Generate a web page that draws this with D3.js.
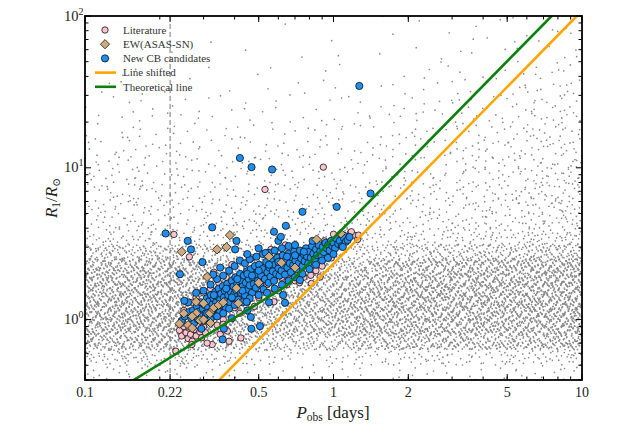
<!DOCTYPE html>
<html>
<head>
<meta charset="utf-8">
<script src="https://cdn.jsdelivr.net/npm/d3@7"></script>
<style>
  html, body { margin: 0; padding: 0; background: #fff; }
</style>
</head>
<body>
<svg id="chart" width="632" height="426" font-family="Liberation Serif, DejaVu Serif, serif"></svg>
<script>
// ══════════════════════════════════════════════
// DATA  (P in days, R in solar radii)
// ══════════════════════════════════════════════

// background sample: point counts per cell.
// cells are 0.1 dex wide in log P (from 0.1 d) and 0.1 dex tall in log R (from R = 100 downward)
const bgLogP0 = -1;
const bgLogRTop = 2;
const bgCounts = [
  [0,0,0,0,0,0,0,0,1,0,0,1,0,1,0,1,1,1,1,2],
  [0,1,0,0,0,1,0,0,0,1,0,0,1,0,1,1,1,2,1,2],
  [1,0,0,1,0,0,1,0,1,0,1,1,0,1,1,2,1,2,2,3],
  [0,1,1,0,1,0,1,1,0,1,1,0,1,1,2,1,2,2,3,4],
  [1,1,1,1,1,1,0,1,1,1,1,1,1,2,2,2,3,3,4,5],
  [1,2,2,1,2,1,1,1,2,1,2,2,2,2,3,3,3,4,5,6],
  [2,2,3,2,2,2,2,2,2,2,2,2,3,3,3,4,4,5,6,7],
  [3,3,3,3,3,2,3,2,3,3,3,3,3,4,4,4,5,6,7,8],
  [4,4,4,3,3,3,3,3,3,3,3,4,4,4,5,5,6,7,8,9],
  [5,5,5,4,4,4,4,4,4,4,4,4,5,5,5,6,7,8,9,11],
  [5,6,6,5,5,5,5,5,5,5,5,5,6,6,6,7,8,9,10,12],
  [6,7,7,6,6,6,6,6,6,6,6,6,7,7,7,8,9,10,11,13],
  [7,8,8,7,7,7,7,7,7,7,7,7,8,8,8,9,10,11,12,14],
  [8,9,9,8,8,8,8,8,8,8,8,8,9,9,9,10,11,12,13,15],
  [12,12,13,12,11,11,11,11,11,11,11,12,12,13,13,14,15,16,17,20],
  [34,34,36,34,32,29,26,21,18,18,20,24,29,32,34,36,37,38,40,45],
  [70,70,72,70,66,62,54,42,34,34,42,50,62,66,70,72,74,75,78,82],
  [78,80,82,80,78,74,66,56,48,52,60,70,75,78,80,82,83,84,86,90],
  [80,82,85,82,80,78,74,66,60,66,74,78,80,82,83,83,84,85,86,90],
  [80,82,84,82,80,78,74,70,66,70,74,78,80,80,81,81,81,82,84,88],
  [75,78,80,80,78,74,66,62,62,64,70,74,75,75,75,75,75,76,78,82],
  [56,58,62,62,56,54,45,35,30,32,40,50,54,54,54,52,52,54,56,62],
  [18,19,19,18,17,14,10,7,6,6,7,10,12,12,12,12,12,13,14,17],
  [6,6,6,6,5,4,3,2,2,2,2,3,3,3,3,3,3,3,4,5]
];

// Literature systems [P, R1]
const literature = [
  [0.232,0.62],[0.24,0.85],[0.245,0.78],[0.25,0.9],[0.248,0.95],[0.255,0.82],[0.26,0.75],[0.262,0.88],
  [0.266,0.8],[0.27,0.72],[0.275,0.86],[0.28,0.78],[0.285,0.92],[0.29,0.83],[0.295,0.76],[0.3,0.9],
  [0.305,0.82],[0.269,0.685],[0.325,0.685],[0.38,0.72],[0.374,0.84],[0.424,0.757],[0.31,0.7],[0.35,0.8],
  [0.34,0.92],[0.32,0.95],[0.36,1.0],[0.33,1.05],[0.228,3.64],[0.263,2.59],[0.53,7.2],[0.91,10.1],
  [0.576,1.31],[0.28,1.4],[0.3,1.5],[0.32,1.6],[0.345,1.75],[0.37,1.9],[0.29,1.25],[0.31,1.35],
  [0.33,1.1],[0.355,1.55],[0.38,1.4],[0.4,1.75],[0.42,1.45],[0.44,1.9],[0.46,1.55],[0.48,2.0],
  [0.5,1.6],[0.52,2.2],[0.54,1.7],[0.56,2.35],[0.58,1.9],[0.6,2.6],[0.62,1.9],[0.64,2.4],
  [0.66,2.0],[0.68,2.7],[0.7,2.0],[0.72,2.55],[0.74,2.1],[0.78,2.75],[0.81,1.96],[0.815,1.73],
  [0.883,1.91],[0.9,3.0],[0.95,2.7],[1.0,3.65],[1.17,3.73],[1.21,3.6],[1.25,3.37],[1.18,3.79],
  [1.26,3.6],[1.05,3.5],[1.1,3.6],[0.86,3.1],[0.92,3.3],[0.45,1.3],[0.5,1.4],[0.55,1.5],
  [0.65,1.7],[0.7,1.8],[0.76,1.9],[0.85,2.1],[0.4,1.2],[0.35,1.1],
  [0.33,2.05],[0.39,2.3],[0.47,2.55],[0.56,2.9],[0.64,3.1],[0.27,1.3],[0.25,1.15],[0.31,0.98],
  [0.36,0.93],[0.42,1.1],[0.48,1.22],[0.6,1.55],[0.73,1.75],[0.9,2.25],[0.98,2.55]
];

// EW (ASAS-SN) systems [P, R1]
const ewAsassn = [
  [0.383,3.6],[0.245,2.8],[0.34,2.9],[0.371,3.0],[0.31,1.91],[0.617,2.37],[0.855,3.37],[1.07,3.69],
  [0.28,1.31],[0.29,0.99],[0.26,0.92],[0.318,1.1],[0.414,1.28],[0.407,1.61],[0.28,1.1],[0.328,1.17],
  [0.27,1.05],[0.3,1.0],[0.32,0.95],[0.33,1.2],[0.27,0.88],[0.345,1.25],[0.36,1.3],[0.25,1.1],
  [0.24,0.94],[0.3,1.28],[0.5,1.75],[0.55,2.6],[0.7,2.2]
];

// New CB candidates [P, R1]
const newCB = [
  [0.245,0.98],[0.252,1.05],[0.262,1.12],
  [0.268,1.02],[0.272,1.15],[0.275,0.95],[0.278,1.08],[0.282,1.22],[0.285,1.0],[0.288,1.13],
  [0.292,1.3],[0.295,1.06],[0.298,1.18],[0.30,0.98],[0.303,1.25],[0.306,1.1],[0.309,1.38],[0.31,1.02],
  [0.313,1.2],[0.316,1.32],[0.318,1.12],[0.321,1.45],[0.324,1.05],[0.326,1.26],[0.329,1.38],[0.33,1.17],
  [0.334,1.52],[0.337,1.3],[0.34,1.2],[0.342,1.42],[0.345,1.6],[0.348,1.12],[0.35,1.35],
  [0.353,1.48],[0.356,1.25],[0.359,1.66],[0.362,1.4],[0.365,1.55],[0.368,1.2],[0.37,1.33],
  [0.374,1.72],[0.377,1.45],[0.38,1.6],[0.383,1.3],[0.386,1.52],[0.39,1.8],[0.393,1.38],[0.396,1.65],[0.399,1.48],
  [0.403,1.9],[0.406,1.56],[0.41,1.72],[0.414,1.35],[0.418,1.62],[0.421,2.0],[0.425,1.5],[0.428,1.8],
  [0.432,1.66],[0.436,1.95],[0.44,1.45],[0.444,1.75],[0.448,2.08],[0.452,1.58],[0.456,1.85],[0.46,1.68],
  [0.465,2.15],[0.47,1.5],[0.474,1.9],[0.478,1.72],[0.483,2.25],[0.487,1.62],[0.492,2.0],[0.496,1.8],
  [0.502,2.3],[0.507,1.7],[0.512,1.95],[0.518,2.15],[0.523,1.58],[0.53,1.85],[0.536,2.4],[0.542,2.05],[0.548,1.75],
  [0.553,2.2],[0.558,1.92],[0.564,2.5],[0.57,2.08],[0.576,1.8],[0.582,2.3],[0.588,2.0],[0.594,2.55],
  [0.60,2.18],[0.606,1.95],[0.612,2.42],[0.618,2.1],[0.625,2.65],[0.632,2.28],[0.638,1.98],[0.645,2.5],
  [0.652,2.2],[0.66,2.72],[0.667,2.35],[0.674,2.05],[0.68,2.58],[0.688,2.28],[0.695,2.8],
  [0.703,2.45],[0.71,2.15],[0.718,2.65],[0.726,2.35],[0.733,2.85],[0.742,2.52],[0.75,2.25],
  [0.758,2.7],[0.766,2.42],[0.775,2.95],[0.783,2.6],[0.792,2.35],[0.80,2.8],
  [0.81,2.55],[0.82,3.05],[0.83,2.72],[0.84,2.5],[0.85,2.9],[0.86,2.66],[0.872,3.1],[0.885,2.82],[0.895,2.6],
  [0.905,3.0],[0.915,2.78],[0.928,3.2],[0.94,2.95],[0.952,3.1],[0.965,2.85],[0.978,3.3],[0.99,3.05],
  [1.0,3.2],[1.015,2.95],[1.03,3.4],[1.045,3.15],[1.06,3.3],[1.08,3.05],[1.1,3.45],[1.12,3.25],[1.14,3.34],[1.16,3.5],
  // upper edge of the band
  [0.3,1.55],[0.32,1.7],[0.34,1.85],[0.36,1.95],[0.38,2.1],[0.4,2.25],[0.42,2.45],[0.44,2.35],[0.46,2.5],
  [0.49,2.6],[0.52,2.7],[0.55,2.75],[0.58,2.85],[0.62,2.95],[0.66,3.05],[0.7,3.1],[0.6,3.3],[0.5,2.95],
  [0.45,2.7],[0.35,2.2],[0.28,1.5],[0.26,1.3],
  // lower edge of the band
  [0.32,1.0],[0.34,1.05],[0.36,1.1],[0.38,1.18],[0.4,1.25],[0.43,1.3],[0.46,1.38],
  [0.5,1.45],[0.54,1.5],[0.58,1.6],[0.62,1.7],[0.66,1.8],[0.7,1.9],[0.75,2.0],[0.8,2.15],[0.85,2.3],
  [0.9,2.45],[0.95,2.55],[1.0,2.7],[0.55,1.3],[0.45,1.15],[0.39,1.02],
  // band interior
  [0.33,1.45],[0.37,1.6],[0.41,1.85],[0.45,2.0],[0.5,2.1],[0.55,2.3],[0.6,2.4],[0.65,2.6],[0.7,2.65],
  [0.76,2.8],[0.47,1.95],[0.43,1.55],[0.39,1.4],[0.35,1.25],[0.31,1.1],
  // outliers
  [1.27,34.6],[0.42,11.6],[0.468,10.1],[0.566,9.75],[1.41,6.77],[1.03,5.53],[0.75,5.13],[0.211,3.69],
  [0.325,4.05],[0.259,3.30],[0.267,2.9],[0.407,3.3],[0.402,2.9],[0.643,4.15],[0.576,3.79],[0.614,3.51],
  [0.533,2.75],[0.297,2.39],[0.241,1.99],[0.251,1.33],[0.465,1.04],[0.506,0.905],[0.467,0.87],[0.358,0.74],
  [0.638,1.29],[0.627,1.45],[0.447,1.31],[0.362,0.87],[0.294,0.87],[0.328,1.98],[0.824,3.3],[1.09,3.01],
  [0.733,1.82]
];

// lines [P, R1]
const lineShifted = [[0.347, 0.4], [9.53, 100]];
const lineTheory  = [[0.157, 0.4], [0.648, 1.67], [7.55, 100]];
const pCut = 0.22;

// axes
const xTickLabels = [0.1, 0.22, 0.5, 1, 2, 5, 10];
const yTickLabels = [1, 10, 100];
const legendItems = [
  { label: 'Literature',        kind: 'lit' },
  { label: 'EW(ASAS-SN)',       kind: 'ew' },
  { label: 'New CB candidates', kind: 'new' },
  { label: 'Line shifted',      kind: 'shift' },
  { label: 'Theoretical line',  kind: 'theory' }
];

// ══════════════════════════════════════════════
// STYLE
// ══════════════════════════════════════════════
const FONT = 'Liberation Serif, DejaVu Serif, serif';
const COL = {
  bg: '#8a8a8a', lit: '#fbc3cd', ew: '#cfab7f', new: '#1e8ef0',
  shift: '#ffa500', theory: '#0a800a', edge: '#111'
};
const M = { l: 85, r: 582, t: 16, b: 380 };

const svg = d3.select('#chart');
const x = d3.scaleLog().domain([0.1, 10]).range([M.l, M.r]);
const y = d3.scaleLog().domain([0.4, 100]).range([M.b, M.t]);

svg.append('defs').append('clipPath').attr('id', 'plot-clip')
  .append('rect').attr('x', M.l).attr('y', M.t).attr('width', M.r - M.l).attr('height', M.b - M.t);
const plot = svg.append('g').attr('clip-path', 'url(#plot-clip)');

// background sample: each cell's count spread over the cell with a Halton fill;
// the index is hashed (high bits of a multiplicative hash) so cells don't show a repeated pattern
function halton(i, b) { let f = 1, r = 0; while (i > 0) { f /= b; r += f * (i % b); i = Math.floor(i / b); } return r; }
const bgPts = [];
let k = 1;
bgCounts.forEach((row, ri) => row.forEach((n, ci) => {
  for (let j = 0; j < n; j++, k++) {
    const idx = ((Math.imul(k, 2654435761) >>> 0) >>> 11) + 1;
    bgPts.push([
      Math.pow(10, bgLogP0 + (ci + halton(idx, 2)) * 0.1),
      Math.pow(10, bgLogRTop - (ri + 1) * 0.1 + halton(idx, 3) * 0.1)
    ]);
  }
}));
plot.append('g').selectAll('circle').data(bgPts).enter().append('circle')
  .attr('cx', d => x(d[0])).attr('cy', d => y(d[1])).attr('r', 0.85)
  .attr('fill', COL.bg);

// P = 0.22 d cut
plot.append('line')
  .attr('x1', x(pCut)).attr('x2', x(pCut)).attr('y1', M.t).attr('y2', M.b)
  .attr('stroke', '#777').attr('stroke-width', 1).attr('stroke-dasharray', '5,3');

// markers
const diamond = 'M0,-4.6L4.6,0L0,4.6L-4.6,0Z';
plot.append('g').selectAll('circle').data(literature).enter().append('circle')
  .attr('cx', d => x(d[0])).attr('cy', d => y(d[1])).attr('r', 3.2)
  .attr('fill', COL.lit).attr('stroke', COL.edge).attr('stroke-width', 0.8);
plot.append('g').selectAll('circle').data(newCB).enter().append('circle')
  .attr('cx', d => x(d[0])).attr('cy', d => y(d[1])).attr('r', 3.6)
  .attr('fill', COL.new).attr('stroke', COL.edge).attr('stroke-width', 0.8);
plot.append('g').selectAll('path').data(ewAsassn).enter().append('path')
  .attr('d', diamond).attr('transform', d => `translate(${x(d[0])},${y(d[1])})`)
  .attr('fill', COL.ew).attr('stroke', COL.edge).attr('stroke-width', 0.8);

// lines
const lineGen = d3.line().x(d => x(d[0])).y(d => y(d[1]));
plot.append('path').attr('d', lineGen(lineShifted))
  .attr('fill', 'none').attr('stroke', COL.shift).attr('stroke-width', 2.6);
plot.append('path').attr('d', lineGen(lineTheory))
  .attr('fill', 'none').attr('stroke', COL.theory).attr('stroke-width', 2.6);

// ══════════════════════════════════════════════
// AXES (ticks inward on all four sides)
// ══════════════════════════════════════════════
const ax = svg.append('g').attr('stroke', '#000').attr('stroke-width', 1);
const xMinor = [];
[0.1, 1].forEach(dec => { for (let m = 2; m <= 9; m++) xMinor.push(dec * m); });
const yMinor = [];
[0.1, 1, 10].forEach(dec => { for (let m = 2; m <= 9; m++) { const v = dec * m; if (v >= 0.4) yMinor.push(v); } });

xMinor.forEach(v => {
  ax.append('line').attr('x1', x(v)).attr('x2', x(v)).attr('y1', M.b).attr('y2', M.b - 3.5);
  ax.append('line').attr('x1', x(v)).attr('x2', x(v)).attr('y1', M.t).attr('y2', M.t + 3.5);
});
xTickLabels.forEach(v => {
  ax.append('line').attr('x1', x(v)).attr('x2', x(v)).attr('y1', M.b).attr('y2', M.b - 6);
  ax.append('line').attr('x1', x(v)).attr('x2', x(v)).attr('y1', M.t).attr('y2', M.t + 6);
});
yMinor.forEach(v => {
  ax.append('line').attr('x1', M.l).attr('x2', M.l + 3.5).attr('y1', y(v)).attr('y2', y(v));
  ax.append('line').attr('x1', M.r).attr('x2', M.r - 3.5).attr('y1', y(v)).attr('y2', y(v));
});
yTickLabels.forEach(v => {
  ax.append('line').attr('x1', M.l).attr('x2', M.l + 6).attr('y1', y(v)).attr('y2', y(v));
  ax.append('line').attr('x1', M.r).attr('x2', M.r - 6).attr('y1', y(v)).attr('y2', y(v));
});

svg.append('rect')
  .attr('x', M.l).attr('y', M.t).attr('width', M.r - M.l).attr('height', M.b - M.t)
  .attr('fill', 'none').attr('stroke', '#000').attr('stroke-width', 1.8);

svg.append('g').selectAll('text').data(xTickLabels).enter().append('text')
  .attr('x', d => x(d)).attr('y', 397).attr('text-anchor', 'middle')
  .attr('font-family', FONT).attr('fill', '#222')
  .attr('font-size', 14).text(d => String(d));

svg.append('g').selectAll('text').data(yTickLabels).enter().append('text')
  .attr('x', 83.5).attr('y', d => y(d) + 4.5).attr('text-anchor', 'end')
  .attr('font-family', FONT).attr('fill', '#222')
  .attr('font-size', 14.5)
  .each(function(d) {
    const t = d3.select(this);
    t.append('tspan').text('10');
    t.append('tspan').attr('font-size', 10).attr('dy', -6).text(String(Math.round(Math.log10(d))));
  });

// axis titles
const xt = svg.append('text').attr('x', 333).attr('y', 418).attr('text-anchor', 'middle')
  .attr('font-family', FONT).attr('fill', '#222').attr('font-size', 17);
xt.append('tspan').attr('font-style', 'italic').text('P');
xt.append('tspan').attr('font-size', 11.5).attr('dy', 3).text('obs');
xt.append('tspan').attr('dy', -3).text(' [days]');

const yt = svg.append('text').attr('transform', 'translate(57,198) rotate(-90)')
  .attr('text-anchor', 'middle').attr('font-family', FONT).attr('fill', '#222').attr('font-size', 17);
yt.append('tspan').attr('font-style', 'italic').text('R');
yt.append('tspan').attr('font-size', 11.5).attr('dy', 3).text('1');
yt.append('tspan').attr('dy', -3).text('/');
yt.append('tspan').attr('font-style', 'italic').text('R');
yt.append('tspan').attr('font-size', 10.5).attr('dy', 3).attr('font-family', 'DejaVu Serif').text('⊙');

// ══════════════════════════════════════════════
// LEGEND
// ══════════════════════════════════════════════
const lg = svg.append('g');
legendItems.forEach((it, i) => {
  const cy = 30 + i * 14.2;
  const g = lg.append('g');
  if (it.kind === 'lit') {
    g.append('circle').attr('cx', 105).attr('cy', cy).attr('r', 3.2)
      .attr('fill', COL.lit).attr('stroke', COL.edge).attr('stroke-width', 0.8);
  } else if (it.kind === 'ew') {
    g.append('path').attr('d', diamond).attr('transform', `translate(105,${cy})`)
      .attr('fill', COL.ew).attr('stroke', COL.edge).attr('stroke-width', 0.8);
  } else if (it.kind === 'new') {
    g.append('circle').attr('cx', 105).attr('cy', cy).attr('r', 3.6)
      .attr('fill', COL.new).attr('stroke', COL.edge).attr('stroke-width', 0.8);
  } else {
    g.append('line').attr('x1', 95).attr('x2', 116).attr('y1', cy).attr('y2', cy)
      .attr('stroke', COL[it.kind]).attr('stroke-width', 2.6);
  }
  g.append('text').attr('x', 123).attr('y', cy + 3.8)
    .attr('font-family', FONT).attr('fill', '#333').attr('font-size', 11).text(it.label);
});
</script>
</body>
</html>
